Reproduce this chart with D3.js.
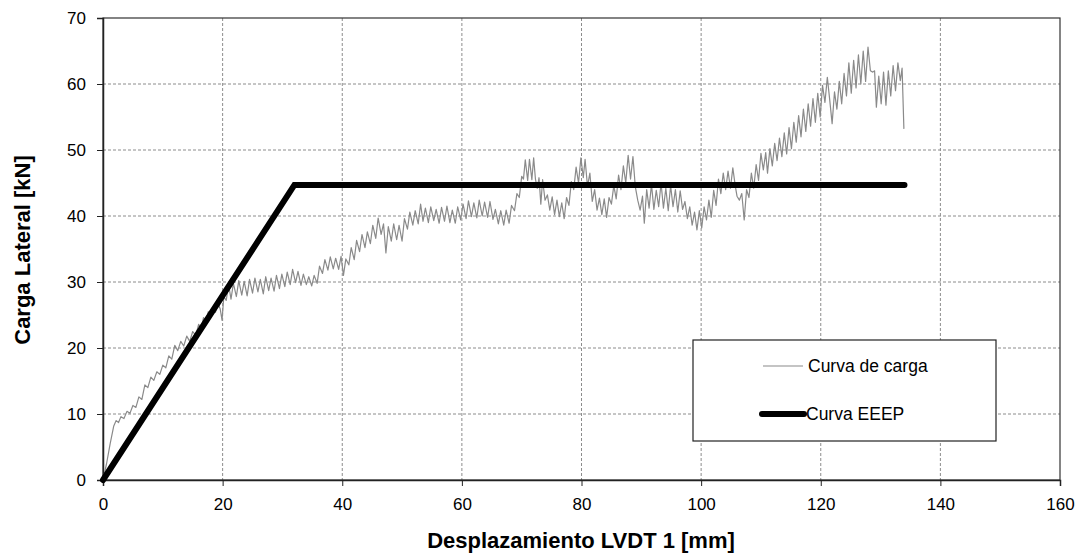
<!DOCTYPE html>
<html>
<head>
<meta charset="utf-8">
<script src="https://cdn.jsdelivr.net/npm/d3@7"></script>
<style>
  body { margin: 0; background: #fff; }
  svg { font-family: "Liberation Sans", Arial, sans-serif; }
  .grid line { stroke: #8c8c8c; stroke-dasharray: 3, 2; stroke-width: 1; }
</style>
</head>
<body>
<div id="chart"></div>
<script>
// curva de carga (desplazamiento [mm], carga [kN])
let cargaDesp = [
  0, 0.6, 1.2, 1.8, 2.2, 2.6, 3.0, 3.5, 4.0, 4.5, 5.0, 5.5, 6.0, 6.5, 7.0, 7.5, 8.0, 8.5, 9.0, 9.5,
  10.0, 10.5, 11.0, 11.5, 12.0, 12.5, 13.0, 13.5, 14.0, 14.5, 15.0, 15.5, 16.0, 16.4, 16.8, 17.2, 17.6, 18.0, 18.4, 18.8,
  19.2, 19.6, 19.9, 20.2,
  20.6, 21.0, 21.4, 21.8, 22.3, 22.7, 23.2, 23.6, 24.1, 24.5, 25.0, 25.4, 25.9, 26.3, 26.8, 27.2, 27.7, 28.1, 28.6, 29.0,
  29.5, 29.9, 30.4, 30.8, 31.3, 31.7, 32.2, 32.6, 33.1, 33.5, 34.0, 34.4, 34.9, 35.3, 35.8, 36.2,
  36.7, 37.1, 37.6, 38.0, 38.5, 38.9, 39.4, 39.8, 40.2, 40.6, 41.1, 41.5, 42.0, 42.4, 42.9, 43.3, 43.8, 44.2, 44.7, 45.1,
  45.6, 46.0, 46.5, 46.9, 47.3, 47.7, 48.2, 48.6, 49.1, 49.5, 50.0, 50.4, 50.9, 51.3, 51.8, 52.2, 52.7, 53.1, 53.5, 53.9,
  54.4, 54.8, 55.3, 55.7, 56.2, 56.6, 57.1, 57.5, 58.0, 58.4, 58.9, 59.3, 59.8, 60.2, 60.7, 61.1, 61.6, 62.0, 62.5, 62.9,
  63.4, 63.8, 64.3, 64.7, 65.2, 65.6, 66.1, 66.5, 67.0, 67.4, 67.9, 68.3, 68.8, 69.2, 69.6, 70.0,
  70.3, 70.6, 71.0, 71.3, 71.7, 72.0, 72.3, 72.6, 72.9, 73.2, 73.5, 73.9, 74.3, 74.7, 75.1, 75.5, 75.9, 76.3, 76.7, 77.1,
  77.5, 77.9, 78.3, 78.7, 79.1, 79.5, 79.9, 80.3, 80.6, 81.0, 81.4, 81.8, 82.2, 82.6, 83.0, 83.4, 83.8, 84.2, 84.6, 85.0,
  85.4, 85.8, 86.2, 86.6, 87.0, 87.4, 87.8, 88.2, 88.6, 89.0, 89.4, 89.8, 90.2, 90.5,
  90.9, 91.3, 91.7, 92.1, 92.5, 92.9, 93.3, 93.7, 94.1, 94.5, 94.9, 95.3, 95.7, 96.1, 96.5, 96.9, 97.3, 97.7, 98.1, 98.5,
  98.9, 99.3, 99.7, 100.1, 100.5, 100.9, 101.3, 101.7, 102.1, 102.5, 102.9, 103.3, 103.7, 104.1, 104.5, 104.9, 105.3, 105.7, 106.0, 106.4,
  106.8, 107.2, 107.6, 108.0, 108.4, 108.8, 109.2, 109.6, 110.0,
  110.4, 110.8, 111.1, 111.5, 111.9, 112.3, 112.7, 113.1, 113.5, 113.9, 114.3, 114.7, 115.1, 115.5, 115.9, 116.3, 116.7, 117.1, 117.5, 117.9,
  118.3, 118.7, 119.1, 119.5, 119.9, 120.3, 120.7, 121.1, 121.5, 121.9, 122.3, 122.7, 123.1, 123.5, 123.9, 124.3, 124.7, 125.1, 125.5, 125.9,
  126.3, 126.7, 127.1, 127.5, 127.9, 128.3, 128.7, 129.0, 129.3, 129.7, 130.1, 130.5, 130.9, 131.3, 131.7, 132.1, 132.5, 132.9, 133.3, 133.6,
  133.9
];

let cargaKN = [
  0, 2.5, 5.5, 8.2, 9.0, 8.7, 9.6, 9.3, 10.4, 10.1, 11.3, 11.0, 12.6, 12.2, 14.4, 14.0, 15.6, 15.1, 16.4, 16.0,
  17.4, 17.0, 18.8, 18.3, 20.4, 19.6, 21.0, 20.3, 21.8, 21.0, 22.5, 21.9, 23.6, 22.8, 24.6, 24.0, 25.5, 24.8, 26.2, 25.4,
  26.8, 25.9, 24.2, 27.8,
  27.2, 29.6, 27.4, 29.8, 27.8, 30.2, 28.0, 30.1, 27.9, 30.4, 28.3, 30.6, 28.5, 30.4, 28.2, 30.8, 28.7, 30.6, 28.6, 31.0,
  29.0, 31.2, 29.3, 31.5, 29.6, 31.9, 29.9, 31.6, 29.5, 31.2, 29.6, 30.8, 29.4, 31.0, 29.8, 32.4,
  31.3, 33.4, 31.8, 33.8, 32.0, 33.6, 31.9, 33.9, 31.0, 33.5, 32.6, 35.2, 33.4, 36.3, 34.6, 37.2, 35.2, 37.6, 35.8, 38.6,
  36.6, 39.7, 37.2, 38.8, 34.4, 38.4, 36.2, 38.8, 36.4, 38.6, 36.2, 39.6, 38.0, 40.6, 38.6, 40.8, 38.8, 41.8, 39.2, 41.2,
  39.0, 41.4, 39.3, 41.0, 38.9, 41.3, 39.2, 41.5, 39.0, 40.9, 38.9, 41.4, 39.4, 41.8, 39.6, 42.3, 39.9, 42.0, 39.7, 42.4,
  40.0, 42.1, 39.8, 42.2, 39.5, 41.0, 38.8, 40.8, 38.6, 40.9, 38.9, 41.6, 40.8, 43.4, 42.8, 46.0,
  45.6, 48.5, 45.4, 48.6, 45.5, 48.8, 45.6, 44.2, 45.8, 41.8, 45.5, 42.4, 43.2, 40.9, 42.9, 40.2, 42.4, 39.9, 42.0, 39.6,
  42.8, 41.6, 45.2, 44.0, 47.4, 45.0, 48.8, 45.8, 48.6, 44.5, 46.5, 42.2, 44.0, 40.9, 42.7, 40.2, 42.6, 39.8, 42.8, 41.8,
  44.6, 42.6, 46.2, 44.0, 47.6, 45.0, 49.2, 45.6, 49.0, 44.4, 42.4, 40.9, 43.0, 38.9,
  44.0, 41.2, 44.8, 41.0, 43.9, 41.4, 45.0, 41.2, 44.2, 40.8, 44.6, 41.4, 44.0, 40.6, 43.8, 41.0, 42.2, 39.6, 41.4, 38.6,
  40.6, 37.9, 40.8, 38.2, 41.4, 39.4, 42.4, 39.8, 43.9, 41.6, 45.6, 43.4, 46.5, 44.0, 46.8, 44.2, 47.3, 44.6, 43.0, 42.4,
  43.4, 39.4, 44.0, 42.8, 46.5, 44.2, 47.8, 45.4, 49.5,
  47.0, 49.6, 46.5, 50.2, 47.6, 51.0, 48.4, 51.8, 49.0, 52.6, 49.4, 53.4, 50.2, 54.2, 51.2, 55.2, 52.0, 56.2, 52.8, 57.0,
  53.6, 57.8, 54.2, 58.6, 55.0, 59.8, 57.2, 61.0, 57.6, 54.0, 58.8, 56.2, 60.4, 57.0, 61.6, 58.2, 63.2, 58.6, 63.6, 59.4,
  64.4, 60.0, 65.0, 60.4, 65.6, 62.0, 61.8, 62.0, 56.5, 61.2, 57.0, 61.8, 56.8, 62.0, 58.2, 62.8, 59.0, 63.2, 60.5, 62.4,
  53.2
];

// curva EEEP (elastica - perfectamente plastica)
let eeepDesp = [0, 32, 134];
let eeepKN = [0, 44.7, 44.7];

let xTicks = [0, 20, 40, 60, 80, 100, 120, 140, 160];
let yTicks = [0, 10, 20, 30, 40, 50, 60, 70];

let svgWidth = 1081;
let svgHeight = 554;

let margin = { top: 18, right: 21, bottom: 74, left: 103 };
let chartWidth = svgWidth - margin.left - margin.right;
let chartHeight = svgHeight - margin.top - margin.bottom;

let x = d3.scaleLinear().domain([0, 160]).range([0, chartWidth]);
let y = d3.scaleLinear().domain([0, 70]).range([chartHeight, 0]);

let svg = d3.select("#chart")
  .append("svg")
  .attr("width", svgWidth)
  .attr("height", svgHeight);

let g = svg.append("g")
  .attr("transform", "translate(" + margin.left + "," + margin.top + ")");

// grid
g.append("g")
  .attr("class", "grid")
  .selectAll("line.v")
  .data(xTicks.slice(1, -1))
  .enter()
  .append("line")
    .attr("x1", d => x(d))
    .attr("x2", d => x(d))
    .attr("y1", 0)
    .attr("y2", chartHeight);

g.append("g")
  .attr("class", "grid")
  .selectAll("line.h")
  .data(yTicks.slice(1, -1))
  .enter()
  .append("line")
    .attr("x1", 0)
    .attr("x2", chartWidth)
    .attr("y1", d => y(d))
    .attr("y2", d => y(d));

// frame
g.append("rect")
  .attr("x", 0)
  .attr("y", 0)
  .attr("width", chartWidth)
  .attr("height", chartHeight)
  .attr("fill", "none")
  .attr("stroke", "#333")
  .attr("stroke-width", 1.2);

// axes
let xAxis = g.append("g")
  .attr("transform", "translate(0," + chartHeight + ")")
  .call(d3.axisBottom(x).tickValues(xTicks).tickSize(6).tickPadding(12));

let yAxis = g.append("g")
  .call(d3.axisLeft(y).tickValues(yTicks).tickSize(6).tickPadding(11));

[xAxis, yAxis].forEach(a => {
  a.select(".domain").attr("stroke", "#222").attr("stroke-width", 1.5);
  a.selectAll(".tick line").attr("stroke", "#222");
  a.selectAll(".tick text")
    .attr("fill", "#000")
    .style("font-size", "17px")
    .style("font-family", "'Liberation Sans', Arial, sans-serif");
});

// curva de carga
let carga = cargaDesp.map((d, i) => [d, cargaKN[i]]);
let eeep = eeepDesp.map((d, i) => [d, eeepKN[i]]);

let line = d3.line()
  .x(d => x(d[0]))
  .y(d => y(d[1]));

g.append("path")
  .datum(carga)
  .attr("fill", "none")
  .attr("stroke", "#8a8a8a")
  .attr("stroke-width", 1.2)
  .attr("stroke-linejoin", "round")
  .attr("d", line);

g.append("path")
  .datum(eeep)
  .attr("fill", "none")
  .attr("stroke", "#000")
  .attr("stroke-width", 6)
  .attr("stroke-linejoin", "miter")
  .attr("stroke-linecap", "round")
  .attr("d", line);

// axis titles
svg.append("text")
  .attr("x", 581)
  .attr("y", 548)
  .attr("text-anchor", "middle")
  .style("font-size", "22px")
  .style("font-weight", "bold")
  .attr("fill", "#000")
  .text("Desplazamiento LVDT 1 [mm]");

svg.append("text")
  .attr("transform", "translate(30,250) rotate(-90)")
  .attr("text-anchor", "middle")
  .style("font-size", "22px")
  .style("font-weight", "bold")
  .attr("fill", "#000")
  .text("Carga Lateral [kN]");

// legend
let legend = svg.append("g")
  .attr("transform", "translate(693,340)");

legend.append("rect")
  .attr("width", 303)
  .attr("height", 101)
  .attr("fill", "#fff")
  .attr("stroke", "#222")
  .attr("stroke-width", 1.2);

legend.append("line")
  .attr("x1", 70).attr("x2", 110)
  .attr("y1", 26).attr("y2", 26)
  .attr("stroke", "#8a8a8a")
  .attr("stroke-width", 1.2);

legend.append("text")
  .attr("x", 115)
  .attr("y", 32)
  .style("font-size", "17.5px")
  .attr("fill", "#000")
  .text("Curva de carga");

legend.append("line")
  .attr("x1", 69).attr("x2", 111)
  .attr("y1", 74).attr("y2", 74)
  .attr("stroke", "#000")
  .attr("stroke-width", 6)
  .attr("stroke-linecap", "round");

legend.append("text")
  .attr("x", 113)
  .attr("y", 80)
  .style("font-size", "17.5px")
  .attr("fill", "#000")
  .text("Curva EEEP");
</script>
</body>
</html>
